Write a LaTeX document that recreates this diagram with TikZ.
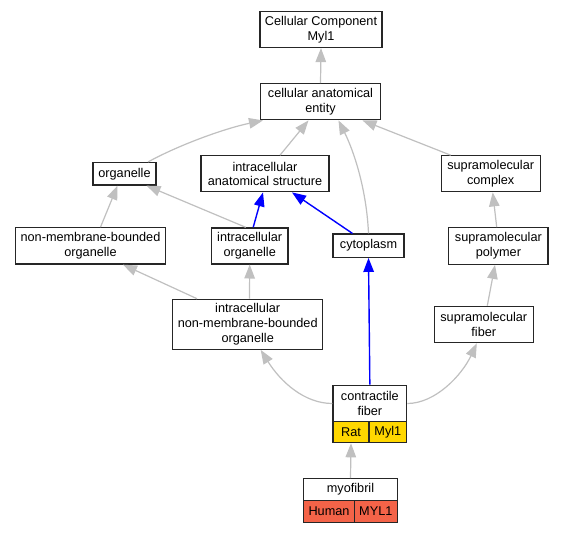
\documentclass[tikz,border=0pt]{standalone}
\usepackage{fontspec}
\setmainfont{Liberation Sans}
\usetikzlibrary{arrows.meta,calc}
\definecolor{edgegray}{RGB}{192,192,192}
\definecolor{ratfill}{RGB}{255,215,0}
\definecolor{humanfill}{RGB}{244,99,72}
\tikzset{
  box/.style={draw=black!85, line width=1.2pt, fill=white, inner sep=0pt, align=center,
    font=\fontsize{12.7}{14.6}\selectfont},
  cell/.style={box},
  grayedge/.style={draw=edgegray, line width=1.2pt, -{Triangle[length=14pt,width=10.5pt]}},
  blueedge/.style={draw=blue, line width=1.4pt, -{Triangle[length=14pt,width=10.5pt]}},
}
\begin{document}
\begin{tikzpicture}[x=1pt,y=-1pt]
\useasboundingbox (0,0) rectangle (564,533);
\fill[white] (0,0) rectangle (564,533);

\node[box, minimum width=122pt, minimum height=36pt] (ccm) at (321,29.5) {Cellular Component\\Myl1};
\node[box, minimum width=120pt, minimum height=36pt] (cae) at (320.5,101.8) {cellular anatomical\\entity};
\node[box, minimum width=63pt, minimum height=22.5pt] (org) at (124.5,173.8) {organelle};
\node[box, minimum width=128pt, minimum height=36pt] (ias) at (265,173.8) {intracellular\\anatomical structure};
\node[box, minimum width=99pt, minimum height=36pt] (smc) at (490.7,173.8) {supramolecular\\complex};
\node[box, minimum width=149.6pt, minimum height=36.3pt] (nmbo) at (90.5,245.9) {non-membrane-bounded\\organelle};
\node[box, minimum width=76.7pt, minimum height=36pt] (io) at (249.7,245.9) {intracellular\\organelle};
\node[box, minimum width=71pt, minimum height=23.3pt] (cyto) at (368.5,245.7) {cytoplasm};
\node[box, minimum width=99.3pt, minimum height=36.6pt] (smp) at (498.4,246) {supramolecular\\polymer};
\node[box, minimum width=99pt, minimum height=36.4pt] (smf) at (483.8,324.5) {supramolecular\\fiber};
\node[box, minimum width=150pt, minimum height=50pt] (inmbo) at (247.7,324.3) {intracellular\\non-membrane-bounded\\organelle};

\node[box, minimum width=73.7pt, minimum height=36.4pt] (cf) at (369.85,403.5) {contractile\\fiber};
\node[cell, fill=ratfill, minimum width=36pt, minimum height=21pt] (cfa) at (351,432.2) {Rat};
\node[cell, fill=ratfill, minimum width=37.7pt, minimum height=21pt] (cfb) at (387.85,432.2) {Myl1};

\node[box, minimum width=93.6pt, minimum height=22pt] (myo) at (350.5,489.7) {myofibril};
\node[cell, fill=humanfill, minimum width=50.6pt, minimum height=21.6pt] (myoa) at (329,511.5) {Human};
\node[cell, fill=humanfill, minimum width=43pt, minimum height=21.6pt] (myob) at (375.8,511.5) {MYL1};

% edges
\draw[grayedge] (cae.north) -- (ccm.south);
\draw[grayedge] ($(org.north)+(23.5,0)$) .. controls +(32,-17.5) and +(-38,8) .. ($(cae.south)+(-57.5,0)$);
\draw[grayedge] ($(ias.north)+(15,0)$) -- ($(cae.south)+(-12,0)$);
\draw[grayedge] (cyto.north) .. controls +(-2,-45) and +(15,30) .. ($(cae.south)+(18,0)$);
\draw[grayedge] ($(smc.north)+(-40,0)$) -- ($(cae.south)+(42,0)$);
\draw[grayedge] ($(nmbo.north)+(10,0)$) -- ($(org.south)+(-7,0)$);
\draw[grayedge] ($(io.north)+(-4,0)$) -- ($(org.south)+(22,0)$);
\draw[blueedge] ($(io.north)+(3.5,0)$) -- ($(ias.south)+(-2,0)$);
\draw[blueedge] ($(cyto.north)+(-16,0)$) -- ($(ias.south)+(27,0)$);
\draw[grayedge] ($(smp.north)+(-1.7,0)$) -- ($(smc.south)+(2,0)$);
\draw[grayedge] ($(smf.north)+(3.5,0)$) -- ($(smp.south)+(-3.4,0)$);
\draw[grayedge] ($(inmbo.north)+(-50.7,0)$) -- ($(nmbo.south)+(32.5,0)$);
\draw[grayedge] ($(inmbo.north)+(1.8,0)$) -- (io.south);
\draw[grayedge] (cf.west) .. controls +(-28,0) and +(20,32) .. ($(inmbo.south)+(13,0)$);
\draw[grayedge] (cf.east) .. controls +(28,0) and +(-15,32) .. ($(smf.south)+(-7,0)$);
\draw[blueedge] (cf.north) -- (cyto.south);
\draw[grayedge] (myo.north) -- (cfa.south);
\end{tikzpicture}
\end{document}
